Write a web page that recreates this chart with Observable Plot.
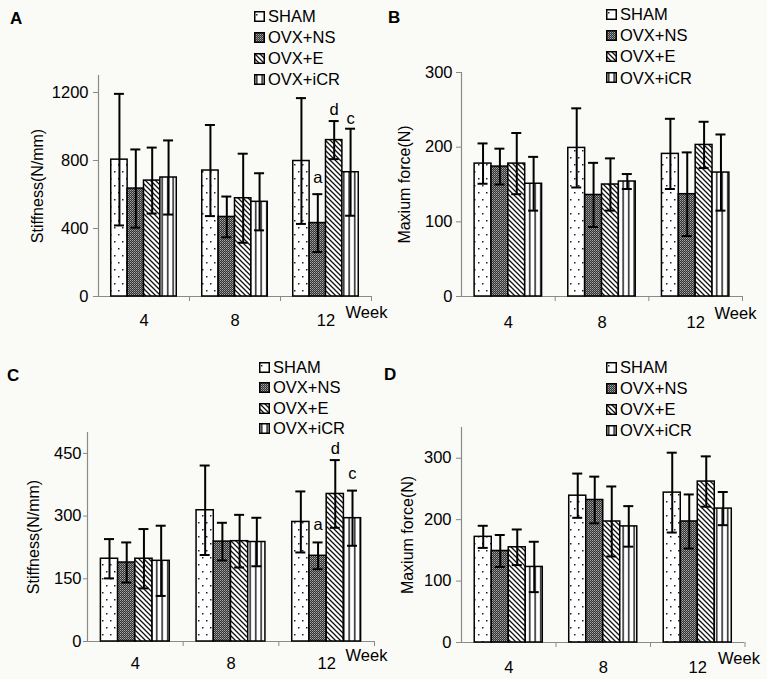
<!DOCTYPE html>
<html><head><meta charset="utf-8">
<script src="https://cdn.jsdelivr.net/npm/d3@7"></script>
<script src="https://cdn.jsdelivr.net/npm/@observablehq/plot@0.6"></script>
<style>
html,body{margin:0;padding:0;background:#fafaf6;}
body{width:767px;height:679px;position:relative;overflow:hidden;font-family:"Liberation Sans",Arial,sans-serif;color:#000;}
.panel{position:absolute;}
.panel svg{max-width:none !important;}
.letter{position:absolute;font-weight:bold;font-size:17px;line-height:1;}
.leg{position:absolute;display:flex;align-items:center;font-size:16.5px;height:20px;white-space:nowrap;line-height:1;}
.leg svg{margin-right:3px;flex:none;}
</style></head><body>
<svg width="0" height="0" style="position:absolute"><defs>
<pattern id="pSham" patternUnits="userSpaceOnUse" width="8" height="14">
<rect width="8" height="14" fill="#ffffff"/>
<rect x="2" y="3" width="1.5" height="1.5" fill="#222"/>
<rect x="6" y="10" width="1.5" height="1.5" fill="#222"/>
</pattern>
<pattern id="pNs" patternUnits="userSpaceOnUse" width="2" height="2">
<rect width="2" height="2" fill="#333"/>
<rect x="0" y="0" width="1" height="1" fill="#a8a8a8"/>
<rect x="1" y="1" width="1" height="1" fill="#7a7a7a"/>
</pattern>
<pattern id="pE" patternUnits="userSpaceOnUse" width="5" height="5">
<rect width="5" height="5" fill="#ffffff"/>
<path d="M-1,-1 L6,6 M-1,4 L1,6 M4,-1 L6,1" stroke="#111" stroke-width="1.3"/>
</pattern>
<pattern id="pIcr" patternUnits="userSpaceOnUse" width="5.5" height="5">
<rect width="5.5" height="5" fill="#ffffff"/>
<rect x="2" y="0" width="1.4" height="5" fill="#111"/>
</pattern>
</defs></svg>
<script>
const weeks = ["4", "8", "12"];
const groups = ["SHAM", "OVX+NS", "OVX+E", "OVX+iCR"];
const groupFills = ["url(#pSham)", "url(#pNs)", "url(#pE)", "url(#pIcr)"];

// values ordered week 4 (SHAM, NS, E, iCR), week 8 (...), week 12 (...)
const aMean = [805, 635, 682, 700, 741, 468, 578, 557, 797, 432, 920, 731];
const aSd   = [387, 230, 194, 218, 268, 120, 262, 168, 370, 170, 112, 256];
const bMean = [178, 174, 178, 151, 199, 136, 150, 154, 191, 137, 203, 166];
const bSd   = [27, 24, 41, 36, 53, 43, 35, 10, 47, 56, 31, 51];
const cMean = [198, 189, 198, 193, 314, 239, 240, 238, 286, 205, 353, 295];
const cSd   = [47, 48, 71, 84, 107, 45, 63, 58, 73, 32, 81, 66];
const dMean = [172, 149, 155, 123, 239, 232, 197, 189, 244, 197, 262, 218];
const dSd   = [18, 26, 29, 41, 36, 38, 57, 33, 65, 44, 41, 27];

const aTicks = [0, 400, 800, 1200];
const bTicks = [0, 100, 200, 300];
const cTicks = [0, 150, 300, 450];
const dTicks = [0, 100, 200, 300];

// significance letters at week 12
const noteLabels = ["a", "d", "c"];
const noteGroups = [1, 2, 3];
const aNoteY = [700, 1100, 1047];
const cNoteY = [279, 462, 402];

const BW = 0.18;
const center = (w, g) => w + 0.5 + (g - 1.5) * BW;
function table(mean, sd) {
  return mean.map((m, k) => ({w: Math.floor(k / 4), g: k % 4, mean: m, sd: sd[k]}));
}

function drawPanel(cfg) {
  const data = table(cfg.mean, cfg.sd);
  const notes = cfg.notes ? noteLabels.map((t, i) => ({t, w: 2, g: noteGroups[i], y: cfg.notes[i]})) : [];
  const gray = "#8a8a8a";
  const cx = d => center(d.w, d.g);
  const plot = Plot.plot({
    width: cfg.width, height: cfg.height,
    marginTop: cfg.m[0], marginRight: cfg.m[1], marginBottom: cfg.m[2], marginLeft: cfg.m[3],
    x: {domain: [0, 3], axis: null},
    y: {domain: [0, cfg.yMax]},
    style: {background: "transparent", fontFamily: '"Liberation Sans", Arial, sans-serif', color: "black", overflow: "visible"},
    marks: [
      Plot.ruleX([0], {stroke: gray, strokeWidth: 1.2}),
      Plot.ruleY([0], {stroke: gray, strokeWidth: 1.2}),
      Plot.ruleX([1, 2, 3], {y1: 0, y2: 0, insetBottom: -5, stroke: gray}),
      Plot.axisY({ticks: cfg.ticks, tickFormat: d => String(d), tickSize: cfg.tickSize, tickPadding: cfg.tickPadding, stroke: gray, fill: "black", fontSize: 16.5, label: null}),
      ...groups.map((name, g) => Plot.rect(data.filter(d => d.g === g), {
        x1: d => cx(d) - BW / 2, x2: d => cx(d) + BW / 2,
        y1: 0, y2: "mean", fill: groupFills[g], stroke: "black", strokeWidth: 1.5})),
      Plot.ruleX(data, {x: cx, y1: d => d.mean - d.sd, y2: d => d.mean + d.sd, stroke: "black", strokeWidth: 2}),
      Plot.ruleY(data, {y: d => d.mean + d.sd, x1: cx, x2: cx, insetLeft: -5, insetRight: -5, stroke: "black", strokeWidth: 2}),
      Plot.ruleY(data, {y: d => d.mean - d.sd, x1: cx, x2: cx, insetLeft: -5, insetRight: -5, stroke: "black", strokeWidth: 2}),
      Plot.text(notes, {x: cx, y: "y", text: "t", fontSize: 16.5}),
      Plot.text(weeks, {x: (d, i) => i + 0.5, y: 0, dy: cfg.catDy, fontSize: 16.5}),
      Plot.text(["Week"], {x: 3, y: 0, dx: cfg.weekDx, dy: cfg.weekDy, textAnchor: "start", fontSize: 16.5}),
      Plot.text([cfg.label], {frameAnchor: "left", textAnchor: "middle", rotate: -90, dx: cfg.labelDx, fontSize: 16})
    ]
  });
  const div = document.createElement("div");
  div.className = "panel";
  div.style.left = cfg.left + "px";
  div.style.top = cfg.top + "px";
  div.style.width = cfg.width + "px";
  div.style.height = cfg.height + "px";
  div.appendChild(plot);
  document.body.appendChild(div);

  const letter = document.createElement("div");
  letter.className = "letter";
  letter.textContent = cfg.letter;
  letter.style.left = cfg.letterPos[0] + "px";
  letter.style.top = (cfg.letterPos[1] - 8) + "px";
  document.body.appendChild(letter);

  groups.forEach((name, g) => {
    const row = document.createElement("div");
    row.className = "leg";
    row.style.left = cfg.legend[0] + "px";
    row.style.top = (cfg.legend[1] + g * cfg.legend[2] - 10) + "px";
    row.innerHTML = `<svg width="11" height="11"><rect x="0.75" y="0.75" width="9.5" height="9.5" fill="${groupFills[g]}" stroke="black" stroke-width="1.5"/></svg><span>${name}</span>`;
    document.body.appendChild(row);
  });
}

drawPanel({letter: "A", letterPos: [10, 18], left: 0, top: 0, width: 384, height: 330, m: [75, 13, 34, 98],
  mean: aMean, sd: aSd, yMax: 1300, ticks: aTicks, tickSize: 5, tickPadding: 5, label: "Stiffness(N/mm)",
  labelDx: -61, catDy: 24, weekDx: -26, weekDy: 16, notes: aNoteY, legend: [254, 16, 21]});
drawPanel({letter: "B", letterPos: [388, 17], left: 384, top: 0, width: 383, height: 330, m: [72, 25, 34, 77],
  mean: bMean, sd: bSd, yMax: 300, ticks: bTicks, tickSize: 5, tickPadding: 4, label: "Maxium force(N)",
  labelDx: -57, catDy: 26, weekDx: -28, weekDy: 17, notes: null, legend: [606, 14, 21.3]});
drawPanel({letter: "C", letterPos: [7, 375], left: 0, top: 330, width: 384, height: 349, m: [102, 10, 38, 87],
  mean: cMean, sd: cSd, yMax: 500, ticks: cTicks, tickSize: 4, tickPadding: 2, label: "Stiffness(N/mm)",
  labelDx: -54, catDy: 22, weekDx: -29, weekDy: 14, notes: cNoteY, legend: [259, 367, 20.5]});
drawPanel({letter: "D", letterPos: [384, 374], left: 384, top: 330, width: 383, height: 349, m: [97, 22.5, 37, 77],
  mean: dMean, sd: dSd, yMax: 350, ticks: dTicks, tickSize: 5, tickPadding: 5, label: "Maxium force(N)",
  labelDx: -54, catDy: 25, weekDx: -27, weekDy: 16, notes: null, legend: [606, 367, 21]});
</script>
</body></html>
